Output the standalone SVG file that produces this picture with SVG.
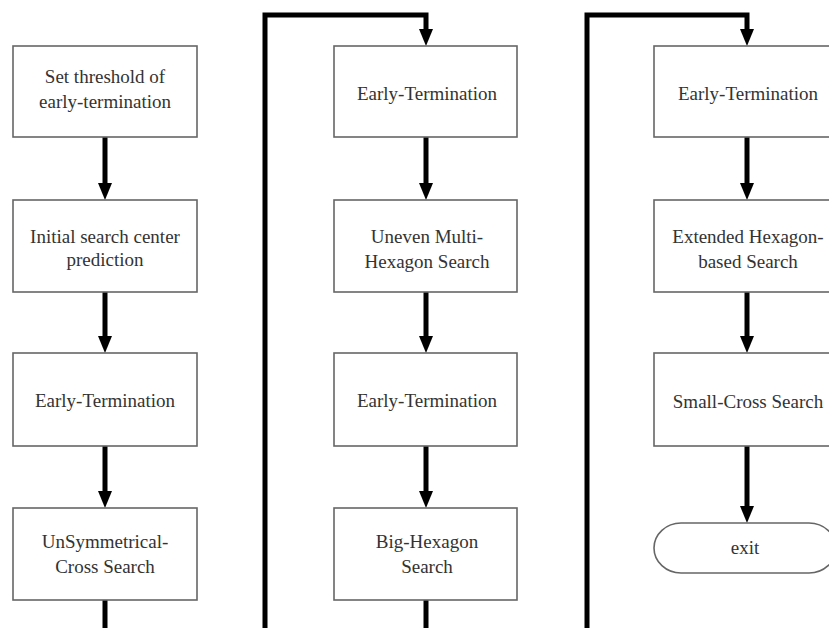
<svg xmlns="http://www.w3.org/2000/svg" width="829" height="628" viewBox="0 0 829 628">
<style>
.box{fill:#fff;stroke:#666;stroke-width:1.6}
.t{font-family:"Liberation Serif","Times New Roman",serif;font-size:19px;fill:#333;text-anchor:middle}
.c{fill:none;stroke:#000;stroke-width:5}
</style>
<defs>
<marker id="ah" viewBox="0 -7 17 14" refX="7" refY="0" markerWidth="17" markerHeight="14" markerUnits="userSpaceOnUse" orient="auto">
<path d="M0,-7 L17,0 L0,7 z" fill="#000"/>
</marker>
</defs>
<rect width="829" height="628" fill="#fff"/>
<g id="connectors">
<path class="c" d="M105,137 V190" marker-end="url(#ah)"/>
<path class="c" d="M105,292 V343" marker-end="url(#ah)"/>
<path class="c" d="M105,446 V498" marker-end="url(#ah)"/>
<path class="c" d="M105,600 V628"/>
<path class="c" d="M265,628 V15 H426 V36" marker-end="url(#ah)"/>
<path class="c" d="M426,137 V190" marker-end="url(#ah)"/>
<path class="c" d="M426,292 V343" marker-end="url(#ah)"/>
<path class="c" d="M426,446 V498" marker-end="url(#ah)"/>
<path class="c" d="M426,600 V628"/>
<path class="c" d="M587,628 V15 H747 V36" marker-end="url(#ah)"/>
<path class="c" d="M747,137 V190" marker-end="url(#ah)"/>
<path class="c" d="M747,292 V343" marker-end="url(#ah)"/>
<path class="c" d="M747,446 V513" marker-end="url(#ah)"/>
</g>
<g id="n1"><rect class="box" x="13" y="46" width="184" height="91"/><text class="t" x="105" y="83">Set threshold of</text><text class="t" x="105" y="108">early-termination</text></g>
<g id="n2"><rect class="box" x="13" y="200" width="184" height="92"/><text class="t" x="105" y="243">Initial search center</text><text class="t" x="105" y="266">prediction</text></g>
<g id="n3"><rect class="box" x="13" y="353" width="184" height="93"/><text class="t" x="105" y="407">Early-Termination</text></g>
<g id="n4"><rect class="box" x="13" y="508" width="184" height="92"/><text class="t" x="105" y="548">UnSymmetrical-</text><text class="t" x="105" y="573">Cross Search</text></g>
<g id="n5"><rect class="box" x="334" y="46" width="183" height="91"/><text class="t" x="427" y="100">Early-Termination</text></g>
<g id="n6"><rect class="box" x="334" y="200" width="183" height="92"/><text class="t" x="427" y="243">Uneven Multi-</text><text class="t" x="427" y="268">Hexagon Search</text></g>
<g id="n7"><rect class="box" x="334" y="353" width="183" height="93"/><text class="t" x="427" y="407">Early-Termination</text></g>
<g id="n8"><rect class="box" x="334" y="508" width="183" height="92"/><text class="t" x="427" y="548">Big-Hexagon</text><text class="t" x="427" y="573">Search</text></g>
<g id="n9"><rect class="box" x="654" y="46" width="183" height="91"/><text class="t" x="748" y="100">Early-Termination</text></g>
<g id="n10"><rect class="box" x="654" y="200" width="183" height="92"/><text class="t" x="748" y="243">Extended Hexagon-</text><text class="t" x="748" y="268">based Search</text></g>
<g id="n11"><rect class="box" x="654" y="353" width="183" height="93"/><text class="t" x="748" y="408">Small-Cross Search</text></g>
<g id="n12"><path class="box" d="M681,523 H809 A27,25 0 0 1 809,573 H681 A27,25 0 0 1 681,523 Z"/><text class="t" x="745" y="554">exit</text></g>
</svg>
